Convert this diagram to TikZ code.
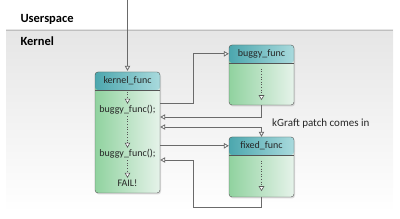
\documentclass[tikz,border=0pt]{standalone}
\usepackage{fontspec}
\setmainfont{Carlito}
\usetikzlibrary{
  arrows.meta,
  positioning,
  shadows
}
\usepackage{xcolor}
\definecolor{kghead}{HTML}{4CA7AE}
\definecolor{kgheadlt}{HTML}{A9DADD}
\definecolor{kgbody}{HTML}{90D29F}
\definecolor{kgbodylt}{HTML}{E6F3EA}
\definecolor{kgline}{HTML}{555555}
\definecolor{kgwire}{HTML}{6A6A6A}

\begin{document}
\begin{tikzpicture}[
  x=1pt, y=-1pt,
  funcbox/.style={draw=kgline, rounded corners=3pt, minimum width=65pt, inner sep=0pt,
    left color=kgbody, right color=kgbodylt,
    drop shadow={opacity=0.25, shadow xshift=1pt, shadow yshift=-1.5pt},
    path picture={
      \shade[left color=kghead, right color=kgheadlt]
        (path picture bounding box.north west) rectangle
        ([yshift=-18pt]path picture bounding box.north east);
      \draw[kgline, line width=0.4pt]
        ([yshift=-18pt]path picture bounding box.north west) --
        ([yshift=-18pt]path picture bounding box.north east);
    }},
  headtext/.style={font=\fontsize{10}{12}\selectfont, text=black!85, inner sep=1pt},
  calltext/.style={font=\fontsize{10}{12}\selectfont, text=black!85, inner sep=1.5pt},
  region/.style={font=\fontsize{12.5}{14}\selectfont\bfseries, anchor=west},
  note/.style={font=\fontsize{11}{13}\selectfont, text=black!85},
  tip/.style={-{Triangle[length=5pt, width=5.5pt, fill=white]}},
  link/.style={tip, draw=kgwire, line width=0.8pt},
  flow/.style={tip, draw=kgline, dotted, line width=0.6pt}
]
  \useasboundingbox (0,0) rectangle (400,219);

  % userspace / kernel regions
  \shade[top color=black!10, bottom color=white] (6,30) rectangle (393,212);
  \draw[black!25, line width=0.8pt] (6,30) -- (393,30);
  \node[region] (user) at (17,19) {Userspace};
  \node[region] (kern) at (17,41) {Kernel};

  % functions
  \node[funcbox, minimum height=121pt] (kf) at (127.5,132.5) {};
  \node[funcbox, minimum height=60pt] (bf) at (261.5,75) {};
  \node[funcbox, minimum height=60pt] (ff) at (261.5,167) {};

  \node[headtext] (kfh) at ([yshift=-9pt]kf.north) {kernel\_func};
  \node[headtext] (bfh) at ([yshift=-9pt]bf.north) {buggy\_func};
  \node[headtext] (ffh) at ([yshift=-9pt]ff.north) {fixed\_func};

  \node[calltext] (call1) at (127.5,110) {buggy\_func();};
  \node[calltext] (call2) at (127.5,154) {buggy\_func();};
  \node[calltext] (fail) at (127.5,183) {FAIL!};

  % control flow inside the functions
  \draw[flow] ([yshift=-20pt]kf.north) -- (call1);
  \draw[flow] (call1) -- (call2);
  \draw[flow] (call2) -- (fail);
  \draw[flow] ([yshift=-24pt]bf.north) -- ([yshift=5pt]bf.south);
  \draw[flow] ([yshift=-24pt]ff.north) -- ([yshift=6pt]ff.south);

  % calls and returns
  \coordinate (entry) at (127.5,0);
  \draw[link, shorten >=1pt] (entry) -- (kf.north);
  \draw[link] (kf.east |- 0,103) -- ++(33,0) |- (bf.west |- bfh);
  \draw[link] (bf.south) |- (kf.east |- 0,117);
  \draw[link, {Triangle[length=5pt, width=5.5pt, fill=white]}-{Triangle[length=5pt, width=5.5pt, fill=white]}]
    (kf.east |- 0,127) -| node[pos=0.5, note, anchor=west, xshift=7pt, yshift=3pt]
    {kGraft patch comes in} (ff.north);
  \draw[link] (kf.east |- ffh) -- (ff.west |- ffh);
  \draw[link] (ff.south) |- (193,207) |- (kf.east |- 0,160);

\end{tikzpicture}
\end{document}
